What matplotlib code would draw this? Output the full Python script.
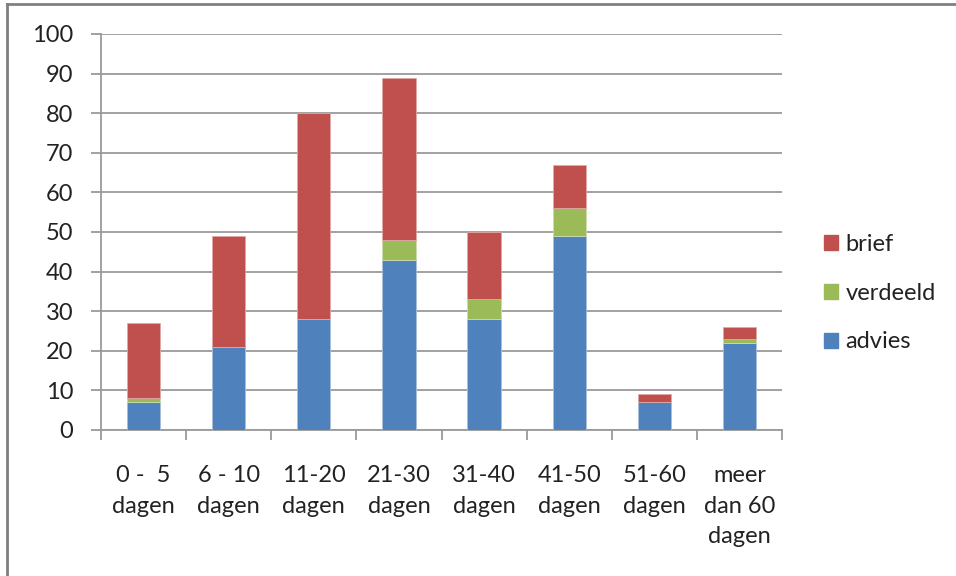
import matplotlib
matplotlib.use("Agg")
import matplotlib.pyplot as plt
from matplotlib.lines import Line2D
from matplotlib.patches import Patch
import numpy as np

categories = ["0 -  5\ndagen", "6 - 10\ndagen", "11-20\ndagen", "21-30\ndagen",
              "31-40\ndagen", "41-50\ndagen", "51-60\ndagen", "meer\ndan 60\ndagen"]
advies = [7, 21, 28, 43, 28, 49, 7, 22]
verdeeld = [1, 0, 0, 5, 5, 7, 0, 1]
brief = [19, 28, 52, 41, 17, 11, 2, 3]
yticks = [0, 10, 20, 30, 40, 50, 60, 70, 80, 90, 100]

c_blue = "#4F81BD"
c_green = "#9BBB59"
c_red = "#C0504D"
grid_c = "#9A9A9A"

plt.rcParams['font.family'] = ['Lato', 'DejaVu Sans']
fs = 17

fig = plt.figure(figsize=(9.56, 5.76), dpi=100)
ax = fig.add_axes([101/956, 1-430/576, (782-101)/956, (430-34)/576])

x = np.arange(len(categories))
w = 0.39
adv = np.array(advies); ver = np.array(verdeeld); bri = np.array(brief)
ax.bar(x, adv, w, color=c_blue, edgecolor="#A7C0DE", linewidth=0.6, zorder=3)
ax.bar(x, ver, w, bottom=adv, color=c_green, edgecolor="#CDDDAC", linewidth=0.6, zorder=3)
ax.bar(x, bri, w, bottom=adv+ver, color=c_red, edgecolor="#DFA8A6", linewidth=0.6, zorder=3)

ax.set_xlim(-0.5, len(categories)-0.5)
ax.set_ylim(0, 100)
ax.set_yticks(yticks)
ax.yaxis.grid(True, color=grid_c, linewidth=1.3, zorder=0)
ax.set_axisbelow(True)

ax.set_xticks(x)
ax.set_xticklabels(categories, linespacing=1.58)
ax.set_xticks(np.arange(len(categories)+1)-0.5, minor=True)
ax.tick_params(axis='x', which='major', length=0, pad=25, labelsize=fs, colors="#222222")
ax.tick_params(axis='x', which='minor', length=7, width=1.3, color=grid_c, direction='out')
ax.tick_params(axis='y', length=7, width=1.3, color=grid_c, pad=13, labelsize=fs, labelcolor="#222222")

for s in ['top', 'right']:
    ax.spines[s].set_visible(False)
for s in ['left', 'bottom']:
    ax.spines[s].set_color(grid_c)
    ax.spines[s].set_linewidth(1.3)

handles = [Patch(color=c_red), Patch(color=c_green), Patch(color=c_blue)]
fig.legend(handles, ["brief", "verdeeld", "advies"], loc='center left',
           bbox_to_anchor=(824/956, 1-293/576), frameon=False, fontsize=fs,
           handlelength=0.6, handleheight=0.6, handletextpad=0.3, labelspacing=1.18,
           labelcolor="#222222", borderpad=0, borderaxespad=0)

# document frame
fig.add_artist(Line2D([7/956, 7/956], [0, 1-4/576], color="#808080", linewidth=2, transform=fig.transFigure))
fig.add_artist(Line2D([7/956, 1], [1-4/576, 1-4/576], color="#808080", linewidth=2, transform=fig.transFigure))

fig.savefig("out.png", dpi=100)
